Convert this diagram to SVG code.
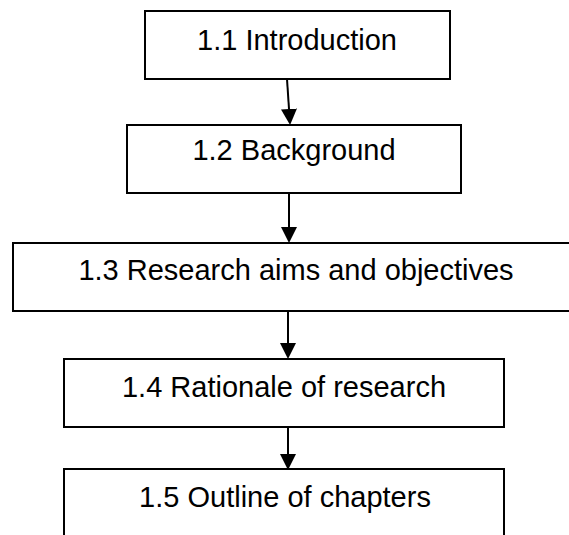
<svg xmlns="http://www.w3.org/2000/svg" width="569" height="535" viewBox="0 0 569 535">
<defs>
<style>
.box{fill:#fff;stroke:#000;stroke-width:2}
.lbl{font-family:"Liberation Sans",Arial,sans-serif;font-size:29px;fill:#000;text-anchor:middle}
.conn{stroke:#000;stroke-width:2;fill:none}
</style>
<marker id="ah" markerUnits="userSpaceOnUse" markerWidth="16" markerHeight="16" refX="0" refY="7.5" orient="auto" viewBox="0 0 15 15">
<path d="M0,0 L15,7.5 L0,15 Z" fill="#000"/>
</marker>
</defs>
<rect width="569" height="535" fill="#fff"/>
<g id="n1"><rect class="box" x="145" y="11" width="305" height="68"/><text class="lbl" x="297" y="50">1.1 Introduction</text></g>
<g id="n2"><rect class="box" x="127" y="125" width="334" height="68"/><text class="lbl" x="294" y="160">1.2 Background</text></g>
<g id="n3"><rect class="box" x="13" y="243" width="568" height="68"/><text class="lbl" x="296" y="280">1.3 Research aims and objectives</text></g>
<g id="n4"><rect class="box" x="64" y="359" width="440" height="68"/><text class="lbl" x="284" y="397">1.4 Rationale of research</text></g>
<g id="n5"><rect class="box" x="64" y="469" width="440" height="80"/><text class="lbl" x="285" y="507">1.5 Outline of chapters</text></g>
<g id="connectors">
<line class="conn" x1="287" y1="79" x2="289" y2="109" marker-end="url(#ah)"/>
<line class="conn" x1="289" y1="193" x2="289" y2="227" marker-end="url(#ah)"/>
<line class="conn" x1="288" y1="311" x2="288" y2="343" marker-end="url(#ah)"/>
<line class="conn" x1="288" y1="427" x2="288" y2="454" marker-end="url(#ah)"/>
</g>
</svg>
